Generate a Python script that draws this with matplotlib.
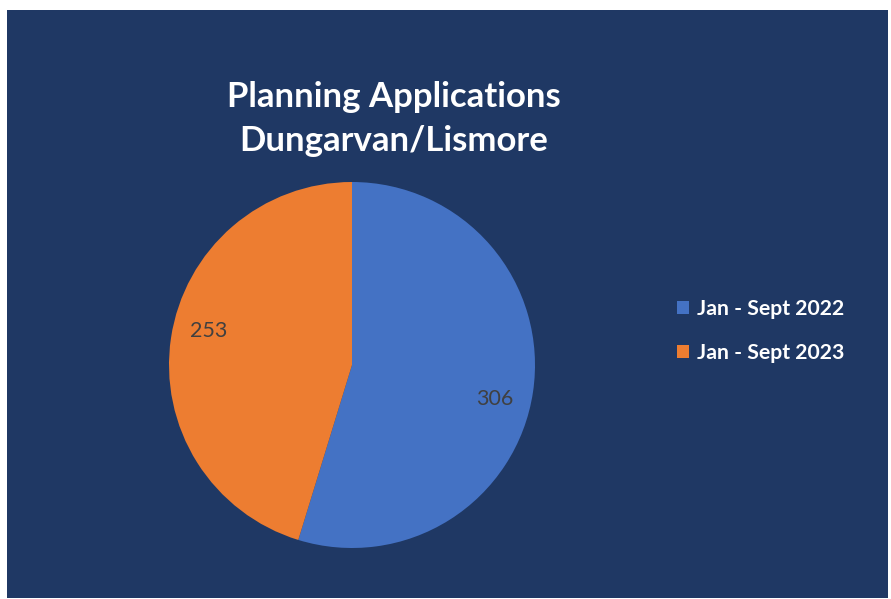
import matplotlib
matplotlib.use("Agg")
import numpy as np
import matplotlib.pyplot as plt
from matplotlib.patches import Rectangle

categories = ["Jan - Sept 2022", "Jan - Sept 2023"]
values = [306, 253]
colors = ["#4472C4", "#ED7D31"]
title = "Planning Applications\nDungarvan/Lismore"

W, H = 891, 599
fig = plt.figure(figsize=(W / 100, H / 100), dpi=100)
fig.patch.set_facecolor("white")
navy = "#1F3864"
fig.add_artist(Rectangle((7 / W, 1 - 598 / H), (888 - 7) / W, (598 - 10) / H,
                         transform=fig.transFigure, facecolor=navy, edgecolor="none", zorder=0))

cx, cy, r = 352, 365, 183
ax = fig.add_axes([(cx - r) / W, 1 - (cy + r) / H, 2 * r / W, 2 * r / H])
ax.set_facecolor("none")
wedges, _ = ax.pie(values, colors=colors, startangle=90, counterclock=False,
                   wedgeprops=dict(linewidth=0))
for w, v in zip(wedges, values):
    ang = np.deg2rad((w.theta1 + w.theta2) / 2 - 5)
    ax.text(0.805 * np.cos(ang), 0.805 * np.sin(ang), str(v), ha="center", va="center",
            color="#404040", fontsize=15.5, family="Lato")
ax.set_xlim(-1, 1); ax.set_ylim(-1, 1)
ax.set_aspect("equal")
ax.axis("off")

fig.text(394 / W, 1 - 119 / H, title, ha="center", va="center", color="white",
         fontsize=25, fontweight="bold", family="Lato", linespacing=1.45)

leg = fig.legend(wedges, categories, loc="center left", bbox_to_anchor=(658 / W, 1 - 331 / H),
                 frameon=False, labelcolor="white", handlelength=0.55, handleheight=0.55,
                 handletextpad=0.4, labelspacing=1.1,
                 prop=dict(family="Lato", weight="bold", size=15.3))
for h in leg.legend_handles:
    h.set_edgecolor("none")

fig.savefig("out.png", dpi=100, facecolor="white")
